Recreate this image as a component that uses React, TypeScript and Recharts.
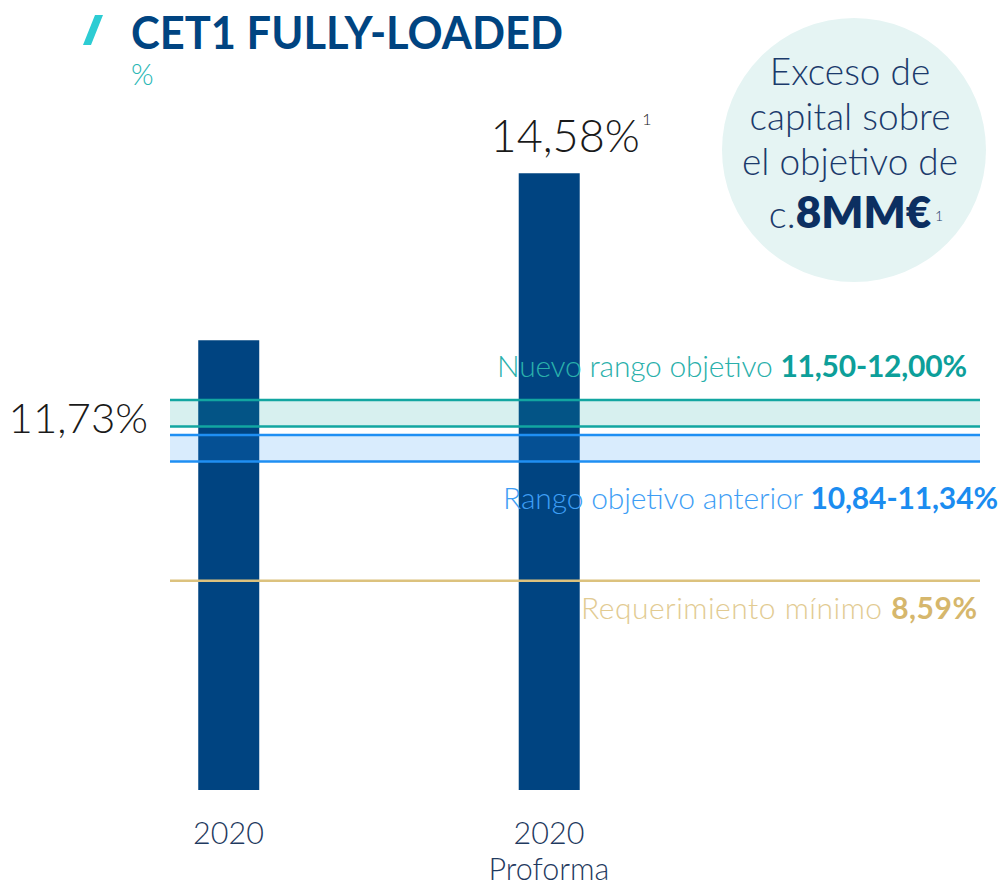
import React from 'react';
import { ComposedChart, Bar, XAxis, YAxis, ReferenceLine, ReferenceArea, LabelList } from 'recharts';

const categoryLines = [["2020"], ["2020", "Proforma"]];
const cet1Values = [11.73, 14.58];
const cet1Labels = ["11,73%", "14,58%"];
const newTargetRange = [11.5, 12.0];
const prevTargetRange = [10.84, 11.34];
const minRequirement = 8.59;
const newTargetText = ["Nuevo rango objetivo ", "11,50-12,00%"];
const prevTargetText = ["Rango objetivo anterior ", "10,84-11,34%"];
const minText = ["Requerimiento mínimo ", "8,59%"];
const excessLines = ["Exceso de", "capital sobre", "el objetivo de"];
const excessAmount = ["c.", "8MM€"];
const footnote = "1";

const data = cet1Values.map((v, i) => ({ idx: i, value: v }));

const NAVY = "#004481";
const TEAL = "#12a6a1";
const BLUE = "#1f8ff3";
const GOLD = "#dcc27e";
const FONT = "Lato, 'Open Sans', sans-serif";

const XTick = (props: any) => {
  const { x, y, payload } = props;
  const lines = categoryLines[payload.value] || [];
  return (
    <text x={x} y={y + 54} textAnchor="middle" fontFamily={FONT} fontWeight={300} fontSize={30.5} fill="#1f3a60">
      {lines.map((t, i) => (
        <tspan key={i} x={x} dy={i === 0 ? 0 : 36}>{t}</tspan>
      ))}
    </text>
  );
};

const BarTopLabel = (props: any) => {
  const { x, y, width, index, value } = props;
  const i = index !== undefined ? index : cet1Values.indexOf(value);
  if (i !== 1) return null;
  const cx = x + width / 2 + 16;
  return (
    <g>
      <text x={cx} y={y - 21} textAnchor="middle" fontFamily={FONT} fontWeight={300} fontSize={45} fill="#1a1a1a">
        {cet1Labels[i]}
      </text>
      <text x={cx + 77} y={y - 48} textAnchor="start" fontFamily={FONT} fontWeight={300} fontSize={16} fill="#1a1a1a">
        {footnote}
      </text>
    </g>
  );
};

const rangeLabel = (parts: string[], color: string, boldColor: string, dx: number, dy: number, len: number) => (props: any) => {
  const vb = props.viewBox || {};
  const ex = vb.x + vb.width + dx;
  const ey = vb.y + dy;
  return (
    <text x={ex} y={ey} textAnchor="end" fontFamily={FONT} fontSize={30} fill={color} textLength={len} lengthAdjust="spacing">
      <tspan fontWeight={300}>{parts[0]}</tspan>
      <tspan fontWeight={700} fill={boldColor}>{parts[1]}</tspan>
    </text>
  );
};

const leftValueLabel = (props: any) => {
  const vb = props.viewBox || {};
  return (
    <text x={vb.x - 22} y={vb.y + 19} textAnchor="end" fontFamily={FONT} fontWeight={300} fontSize={42} fill="#1a1a1a">
      {cet1Labels[0]}
    </text>
  );
};

export default function App() {
  return (
    <div style={{ position: 'absolute', left: 0, top: 0, width: 1006, height: 885, background: '#fff' }}>
      <ComposedChart width={1006} height={885} data={data} margin={{ top: 90, right: 26, bottom: 35, left: 170 }}>
        <XAxis
          dataKey="idx"
          type="number"
          domain={[-0.1825, 2.345]}
          allowDataOverflow
          ticks={[0, 1]}
          axisLine={false}
          tickLine={false}
          tickSize={0}
          tickMargin={0}
          height={60}
          tick={<XTick />}
          interval={0}
        />
        <YAxis yAxisId="bar" hide type="number" domain={[4.05, 16]} allowDataOverflow />
        <YAxis yAxisId="ref" hide type="number" domain={[4.64, 17.85]} allowDataOverflow />
        <Bar yAxisId="bar" dataKey="value" fill={NAVY} barSize={61} isAnimationActive={false}>
          <LabelList dataKey="value" content={<BarTopLabel />} />
        </Bar>
        <ReferenceArea yAxisId="ref" y1={newTargetRange[0]} y2={newTargetRange[1]} fill={TEAL} fillOpacity={0.17} stroke="none" zIndex={450} />
        <ReferenceArea yAxisId="ref" y1={prevTargetRange[0]} y2={prevTargetRange[1]} fill={BLUE} fillOpacity={0.17} stroke="none" zIndex={450} />
        <ReferenceLine yAxisId="ref" y={newTargetRange[1]} stroke={TEAL} strokeWidth={2.5} zIndex={460}
          label={{ content: rangeLabel(newTargetText, "#2ab0ab", "#0d9f9a", -13, -23, 470) }} />
        <ReferenceLine yAxisId="ref" y={newTargetRange[0]} stroke={TEAL} strokeWidth={2.5} zIndex={460} />
        <ReferenceLine yAxisId="ref" y={prevTargetRange[1]} stroke={BLUE} strokeWidth={2.5} zIndex={460} />
        <ReferenceLine yAxisId="ref" y={prevTargetRange[0]} stroke={BLUE} strokeWidth={2.5} zIndex={460}
          label={{ content: rangeLabel(prevTargetText, "#3e9ef5", "#1b8cf0", 18, 48, 495) }} />
        <ReferenceLine yAxisId="ref" y={minRequirement} stroke={GOLD} strokeWidth={2.5} zIndex={460}
          label={{ content: rangeLabel(minText, "#e2cb92", "#d6b76c", -3, 38, 396) }} />
        <ReferenceLine yAxisId="ref" y={cet1Values[0]} stroke="none" label={{ content: leftValueLabel }} />
      </ComposedChart>
      <svg width={1006} height={885} style={{ position: 'absolute', left: 0, top: 0, pointerEvents: 'none' }}>
        <polygon points="95,15 103,15 91,45 83,45" fill="#2dccd3" />
        <text x={131} y={49} fontFamily={FONT} fontWeight={700} fontSize={46} fill={NAVY} textLength={432} lengthAdjust="spacingAndGlyphs">
          CET1 FULLY-LOADED
        </text>
        <text x={131} y={85} fontFamily={FONT} fontWeight={300} fontSize={29} fill="#2ab7b5">%</text>
        <circle cx={854} cy={150} r={132} fill="#e5f4f3" />
        {excessLines.map((t, i) => (
          <text key={i} x={850} y={85 + i * 45} textAnchor="middle" fontFamily={FONT} fontWeight={300} fontSize={37} fill="#1b3a6b">
            {t}
          </text>
        ))}
        <text x={850} y={228} textAnchor="middle" fontFamily={FONT} fill="#1b3a6b">
          <tspan fontWeight={300} fontSize={38}>{excessAmount[0]}</tspan>
          <tspan fontWeight={800} fontSize={44} fill="#0c2f61">{excessAmount[1]}</tspan>
        </text>
        <text x={935} y={221} fontFamily={FONT} fontWeight={300} fontSize={14} fill="#1b3a6b">{footnote}</text>
      </svg>
    </div>
  );
}
